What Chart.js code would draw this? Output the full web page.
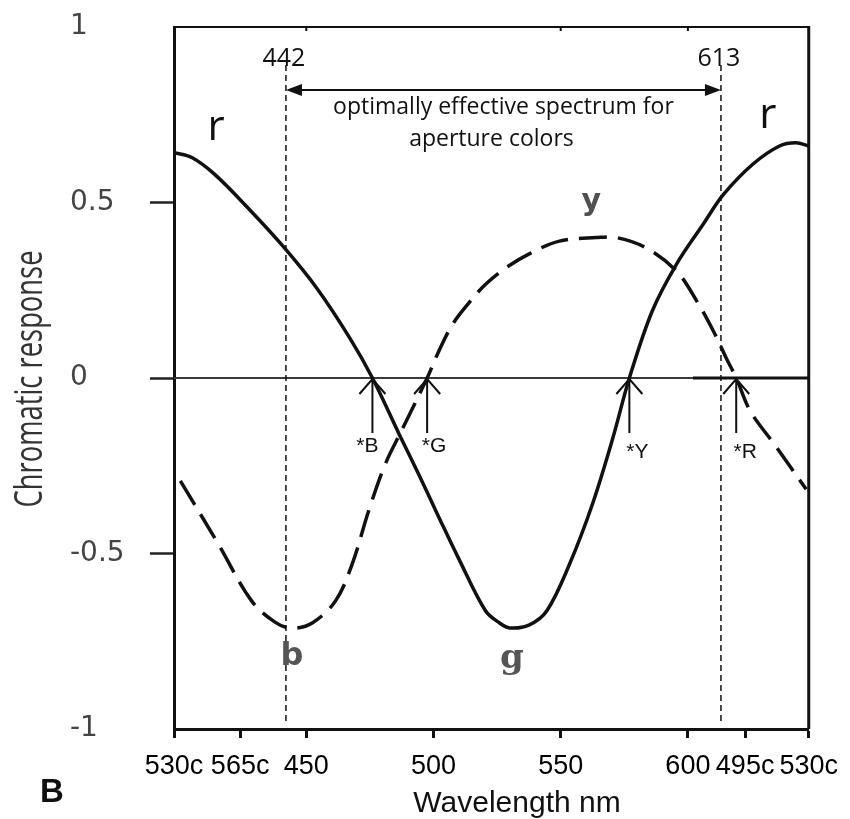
<!DOCTYPE html>
<html>
<head>
<meta charset="utf-8">
<script src="https://cdn.jsdelivr.net/npm/chart.js@4.4.1/dist/chart.umd.min.js"></script>
<style>
  html, body { margin: 0; padding: 0; background: #fff; }
  #wrap { width: 850px; height: 819px; }
</style>
</head>
<body>
<div id="wrap"><canvas id="chart" width="850" height="819"></canvas></div>
<script>
// red-green channel (solid line): r at both ends, g trough in the middle
const rgWavelengths = [398, 405, 414, 427, 441, 454, 467, 476, 486.5, 494.5, 502, 510, 520.5, 526, 530, 537.5, 544.5, 553.5, 562.5, 570.5, 577, 586, 595.5, 606, 614, 625.5, 636, 642.5, 647.5];
const rgResponse = [0.642, 0.628, 0.58, 0.485, 0.374, 0.257, 0.115, 0, -0.16, -0.279, -0.395, -0.516, -0.664, -0.698, -0.712, -0.704, -0.664, -0.53, -0.359, -0.171, 0, 0.191, 0.324, 0.438, 0.523, 0.609, 0.661, 0.67, 0.661];

// yellow-blue channel (dashed line): b trough, y peak
const ybWavelengths = [400.5, 415.5, 428.5, 438, 444.5, 452.5, 461.5, 468, 474.5, 481, 488, 497.5, 502, 507.5, 514.5, 520.5, 528.5, 538, 549.5, 564, 572, 583.5, 595.5, 603.5, 610, 615, 619, 624.5, 634, 646.5];
const ybResponse = [-0.293, -0.474, -0.635, -0.697, -0.713, -0.697, -0.635, -0.531, -0.379, -0.246, -0.142, 0, 0.075, 0.153, 0.219, 0.267, 0.314, 0.355, 0.39, 0.4, 0.4, 0.371, 0.305, 0.219, 0.134, 0.058, 0, -0.094, -0.189, -0.317];

// axis ticks (the "c" ones are complementary wavelengths on the extra-spectral part)
const xTickValues = [398, 424, 450, 500, 550, 600, 622.5, 647.5];
const xTickLabels = ['530c', '565c', '450', '500', '550', '600', '495c', '530c'];
const yTickValues = [-1, -0.5, 0, 0.5, 1];
const yTickLabels = ['-1', '-0.5', '0', '0.5', '1'];
const topTickValues = [450, 550, 600];

// annotations
const boundaryWavelengths = [442, 613];
const boundaryLabels = ['442', '613'];
const uniqueHueWavelengths = [476, 497.5, 577, 619];
const uniqueHueLabels = ['*B', '*G', '*Y', '*R'];

const SANS = "'Open Sans', 'Noto Sans', sans-serif";
const ARIAL = "'Liberation Sans', Arial, sans-serif";

const overlay = {
    id: 'overlay',
    beforeDatasetsDraw(chart) {
        const { ctx, chartArea: a, scales: { x, y } } = chart;
        const y0 = y.getPixelForValue(0);
        ctx.save();
        // top and right frame
        ctx.strokeStyle = '#111';
        ctx.lineWidth = 2;
        ctx.beginPath(); ctx.moveTo(a.left, a.top); ctx.lineTo(a.right, a.top); ctx.stroke();
        ctx.lineWidth = 3;
        ctx.beginPath(); ctx.moveTo(a.right, a.top - 1); ctx.lineTo(a.right, a.bottom); ctx.stroke();
        ctx.lineWidth = 2;
        topTickValues.forEach(v => {
            const px = x.getPixelForValue(v);
            ctx.beginPath(); ctx.moveTo(px, a.top); ctx.lineTo(px, a.top + 4); ctx.stroke();
        });
        // zero line, thin then heavier on the right
        const split = x.getPixelForValue(602);
        ctx.strokeStyle = '#3a3a3a'; ctx.lineWidth = 2;
        ctx.beginPath(); ctx.moveTo(a.left, y0); ctx.lineTo(split, y0); ctx.stroke();
        ctx.strokeStyle = '#111'; ctx.lineWidth = 3;
        ctx.beginPath(); ctx.moveTo(split, y0); ctx.lineTo(a.right, y0); ctx.stroke();
        // boundaries of the effective spectrum
        ctx.setLineDash([6, 4]); ctx.lineWidth = 1.5;
        boundaryWavelengths.forEach(v => {
            const px = x.getPixelForValue(v);
            ctx.beginPath(); ctx.moveTo(px, a.top + 38); ctx.lineTo(px, a.bottom - 5); ctx.stroke();
        });
        ctx.restore();
    },
    afterDatasetsDraw(chart) {
        const { ctx, chartArea: a, scales: { x, y } } = chart;
        const y0 = y.getPixelForValue(0);
        ctx.save();
        ctx.fillStyle = '#111';
        ctx.strokeStyle = '#111';
        ctx.textAlign = 'center';
        ctx.textBaseline = 'middle';

        // 442 / 613 labels and double arrow
        const bx = boundaryWavelengths.map(v => x.getPixelForValue(v));
        ctx.font = '25px ' + SANS;
        boundaryLabels.forEach((t, i) => ctx.fillText(t, bx[i] - 2, 59));
        const ay = 90;
        ctx.lineWidth = 2;
        ctx.beginPath(); ctx.moveTo(bx[0] + 10, ay); ctx.lineTo(bx[1] - 10, ay); ctx.stroke();
        [[bx[0], 1], [bx[1], -1]].forEach(([px, d]) => {
            ctx.beginPath();
            ctx.moveTo(px, ay);
            ctx.lineTo(px + d * 16, ay - 6);
            ctx.lineTo(px + d * 16, ay + 6);
            ctx.closePath();
            ctx.fill();
        });
        const mid = (bx[0] + bx[1]) / 2;
        ctx.font = '23px ' + SANS;
        ctx.fillText('optimally effective spectrum for', mid, 107);
        ctx.fillText('aperture colors', mid - 12, 139);

        // unique hue arrows at the zero crossings
        const dx = [-5, 7, 8, 9];
        const dy = [68, 68, 74, 74];
        ctx.font = '21px ' + ARIAL;
        ctx.lineWidth = 2;
        uniqueHueWavelengths.forEach((v, i) => {
            const px = x.getPixelForValue(v);
            ctx.beginPath();
            ctx.moveTo(px, y0 + 1); ctx.lineTo(px, y0 + 55);
            ctx.moveTo(px - 13, y0 + 16); ctx.lineTo(px, y0 + 1); ctx.lineTo(px + 13, y0 + 16);
            ctx.stroke();
            ctx.fillText(uniqueHueLabels[i], px + dx[i], y0 + dy[i]);
        });

        // curve names
        ctx.font = '42px ' + SANS;
        ctx.fillText('r', x.getPixelForValue(414.5), y.getPixelForValue(0.712));
        ctx.fillText('r', x.getPixelForValue(631.4), y.getPixelForValue(0.746));
        ctx.fillStyle = '#505050';
        ctx.font = 'bold 30px "DejaVu Sans"';
        ctx.fillText('y', x.getPixelForValue(562), y.getPixelForValue(0.5));
        ctx.fillStyle = '#555';
        ctx.font = 'bold 32px "DejaVu Sans"';
        ctx.fillText('b', x.getPixelForValue(444.4), y.getPixelForValue(-0.795));
        ctx.font = 'bold 34px "DejaVu Serif"';
        ctx.fillText('g', x.getPixelForValue(530.8), y.getPixelForValue(-0.8));

        // axis titles and panel letter
        ctx.fillStyle = '#111';
        ctx.font = '30px ' + ARIAL;
        ctx.textBaseline = 'alphabetic';
        ctx.fillText('Wavelength nm', 517, 812);
        ctx.textAlign = 'left';
        ctx.font = 'bold 33px ' + ARIAL;
        ctx.fillText('B', 40, 802);

        ctx.save();
        ctx.fillStyle = '#333';
        ctx.translate(31, (a.top + a.bottom) / 2 + 1);
        ctx.rotate(-Math.PI / 2);
        ctx.scale(0.72, 1);
        ctx.textAlign = 'center';
        ctx.textBaseline = 'middle';
        ctx.font = '38px ' + SANS;
        ctx.fillText('Chromatic response', 0, 0);
        ctx.restore();

        ctx.restore();
    }
};

new Chart(document.getElementById('chart'), {
    type: 'line',
    data: {
        datasets: [
            {
                label: 'r / g',
                data: rgWavelengths.map((w, i) => ({ x: w, y: rgResponse[i] })),
                borderColor: '#111',
                borderWidth: 3.5,
                tension: 0.35,
                pointRadius: 0,
                fill: false,
            },
            {
                label: 'y / b',
                data: ybWavelengths.map((w, i) => ({ x: w, y: ybResponse[i] })),
                borderColor: '#111',
                borderWidth: 3.5,
                borderDash: [28, 11],
                tension: 0.35,
                pointRadius: 0,
                fill: false,
            },
        ],
    },
    options: {
        responsive: false,
        animation: false,
        layout: { padding: { left: 70, right: 41, top: 27, bottom: 0 } },
        plugins: {
            legend: { display: false },
            tooltip: { enabled: false },
        },
        scales: {
            x: {
                type: 'linear',
                min: 398,
                max: 647.5,
                afterBuildTicks: scale => { scale.ticks = xTickValues.map(v => ({ value: v })); },
                afterFit: scale => { scale.height = 90; },
                ticks: {
                    autoSkip: false,
                    maxRotation: 0,
                    padding: 12,
                    color: '#000',
                    font: { family: ARIAL, size: 27 },
                    callback: (value, index) => xTickLabels[index],
                },
                grid: { drawOnChartArea: false, tickLength: 9, tickWidth: 3, tickColor: '#111' },
                border: { color: '#111', width: 3 },
            },
            y: {
                min: -1,
                max: 1,
                afterBuildTicks: scale => { scale.ticks = yTickValues.map(v => ({ value: v })); },
                afterFit: scale => { scale.width = 104; },
                ticks: {
                    crossAlign: 'far',
                    color: '#444',
                    font: { family: "'DejaVu Sans'", size: 28 },
                    callback: (value, index) => yTickLabels[index],
                },
                grid: {
                    drawOnChartArea: false,
                    tickLength: 24,
                    tickWidth: 2.5,
                    tickColor: ctx => (Math.abs(ctx.tick.value) === 1 ? 'rgba(0,0,0,0)' : '#222'),
                },
                border: { color: '#111', width: 3 },
            },
        },
    },
    plugins: [overlay],
});
</script>
</body>
</html>
